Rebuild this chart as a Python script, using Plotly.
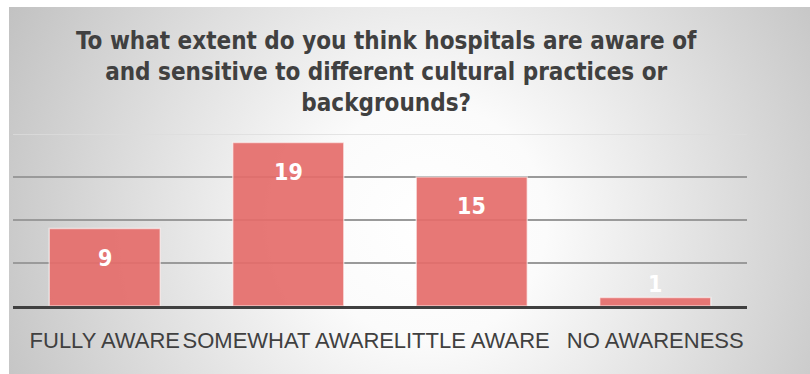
import base64
import plotly.graph_objects as go

# Survey responses
categories = ["FULLY AWARE", "SOMEWHAT AWARE", "LITTLE AWARE", "NO AWARENESS"]
counts = [9, 19, 15, 1]
grid_values = [5, 10, 15]
y_max = 20

title_text = ("To what extent do you think hospitals are aware of<br>"
              "and sensitive to different cultural practices or<br>"
              "backgrounds?")

W, H = 810, 374
# plot area in pixels
L, R, T, B = 13, 63, 134, 68
pw, ph = W - L - R, H - T - B

# radial grey background for the chart panel
svg = f"""<svg xmlns='http://www.w3.org/2000/svg' width='801' height='367' viewBox='0 0 801 367' preserveAspectRatio='none'>
<defs><radialGradient id='g' gradientUnits='userSpaceOnUse' cx='420' cy='215' r='470'>
<stop offset='0' stop-color='#ffffff'/>
<stop offset='0.25' stop-color='#fbfbfb'/>
<stop offset='1' stop-color='#c2c2c2'/>
</radialGradient></defs>
<rect x='0' y='0' width='801' height='367' fill='url(#g)'/>
</svg>"""
bg_uri = "data:image/svg+xml;base64," + base64.b64encode(svg.encode()).decode()

fig = go.Figure()
fig.add_trace(go.Bar(
    x=categories,
    y=counts,
    marker=dict(color="rgba(229,108,106,0.92)",
                line=dict(color="rgba(255,255,255,0.55)", width=1.5)),
    hoverinfo="x+y",
))

# value labels: inside near the top, above when the bar is too short
annotations = []
for cat, v in zip(categories, counts):
    inside = v >= 3
    annotations.append(dict(
        x=cat, y=v, xref="x", yref="y",
        text=f"<b>{v}</b>", showarrow=False,
        yanchor="middle", yshift=-29 if inside else 13,
        font=dict(family="DejaVu Sans Condensed", size=23, color="white"),
    ))

# chart title
annotations.append(dict(
    text=f"<b>{title_text}</b>", showarrow=False,
    xref="paper", yref="paper",
    x=(386 - L) / pw, xanchor="center",
    y=(H - B - 25) / ph, yanchor="top",
    font=dict(family="DejaVu Sans Condensed", size=24, color="#404040"),
))

shapes = [dict(type="line", xref="paper", yref="y", x0=0, x1=1,
               y0=y_max, y1=y_max, line=dict(color="#dcdcdc", width=1.5),
               layer="below")]

fig.update_layout(
    width=W, height=H,
    margin=dict(l=L, r=R, t=T, b=B),
    paper_bgcolor="white",
    plot_bgcolor="rgba(0,0,0,0)",
    showlegend=False,
    bargap=0.395,
    xaxis=dict(
        showline=True, linecolor="#404040", linewidth=3,
        showgrid=False, zeroline=False, tickangle=0,
        ticks="outside", ticklen=0, ticklabelstandoff=13,
        tickfont=dict(family="Liberation Sans", size=22, color="#404040"),
    ),
    yaxis=dict(
        range=[0, y_max], tickvals=grid_values, showticklabels=False,
        showgrid=True, gridcolor="#9a9a9a", gridwidth=1.5,
        zeroline=False, showline=False,
    ),
    images=[dict(
        source=bg_uri, xref="paper", yref="paper",
        x=(9 - L) / pw, y=(H - B - 7) / ph,
        sizex=(W - 9) / pw, sizey=(H - 7) / ph,
        xanchor="left", yanchor="top", sizing="stretch", layer="below",
    )],
    annotations=annotations,
    shapes=shapes,
)

fig.write_html("out.html")
